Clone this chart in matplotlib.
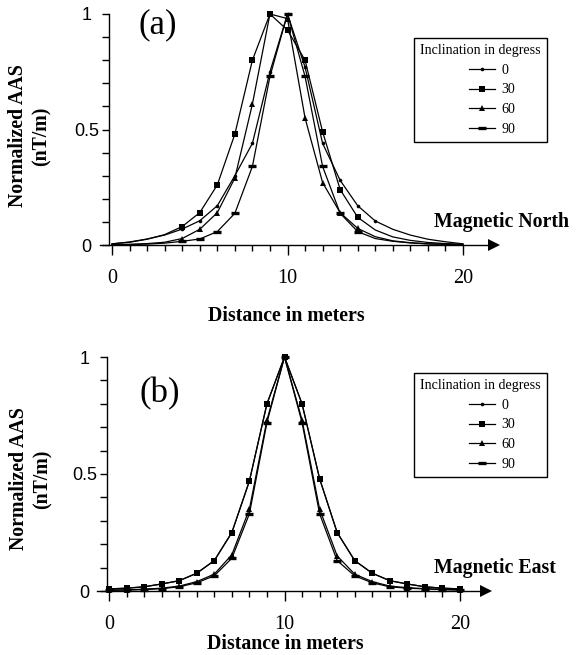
import numpy as np
import matplotlib
matplotlib.use("Agg")
import matplotlib.pyplot as plt
from matplotlib.offsetbox import HPacker, DrawingArea

SERIF = "Liberation Serif"
SANS = "Liberation Sans"

# distance along the profile (m)
dist = np.arange(0, 21)
inclinations = ["0", "30", "60", "90"]

# panel (a): profile towards magnetic north
north_0 = [0.005, 0.013, 0.026, 0.043, 0.069, 0.105, 0.17, 0.30, 0.44, 0.75, 1.0,
           0.77, 0.44, 0.28, 0.17, 0.104, 0.068, 0.043, 0.025, 0.014, 0.005]
north_30 = [0.005, 0.012, 0.025, 0.045, 0.08, 0.14, 0.26, 0.48, 0.80, 1.0, 0.93,
            0.80, 0.49, 0.24, 0.12, 0.065, 0.035, 0.02, 0.011, 0.006, 0.003]
north_60 = [0.002, 0.003, 0.006, 0.012, 0.028, 0.068, 0.14, 0.29, 0.61, 1.0, 0.98,
            0.55, 0.27, 0.14, 0.072, 0.036, 0.018, 0.01, 0.005, 0.003, 0.002]
north_90 = [0.001, 0.002, 0.004, 0.008, 0.016, 0.026, 0.058, 0.137, 0.34, 0.73, 1.0,
            0.73, 0.34, 0.137, 0.058, 0.028, 0.016, 0.009, 0.005, 0.003, 0.001]

# panel (b): profile towards magnetic east
east_0 = [0.009, 0.012, 0.018, 0.03, 0.044, 0.076, 0.13, 0.25, 0.47, 0.80, 1.0,
          0.80, 0.48, 0.25, 0.13, 0.076, 0.044, 0.03, 0.018, 0.012, 0.009]
east_30 = [0.009, 0.012, 0.018, 0.03, 0.044, 0.076, 0.13, 0.25, 0.47, 0.80, 1.0,
           0.80, 0.48, 0.25, 0.13, 0.076, 0.044, 0.03, 0.018, 0.012, 0.009]
east_60 = [0.004, 0.005, 0.008, 0.012, 0.021, 0.04, 0.072, 0.155, 0.35, 0.73, 1.0,
           0.73, 0.35, 0.15, 0.072, 0.04, 0.021, 0.014, 0.01, 0.007, 0.005]
east_90 = [0.003, 0.004, 0.006, 0.01, 0.018, 0.035, 0.065, 0.14, 0.33, 0.72, 1.0,
           0.72, 0.33, 0.13, 0.065, 0.035, 0.018, 0.012, 0.009, 0.006, 0.004]

y_ticks = [0, 0.5, 1]
y_ticklabels = ["0", "0.5", "1"]
x_ticks = [0, 10, 20]

# marker style per inclination
STYLES = {
    "0":  dict(marker="o", ms=2.6, mew=0),
    "30": dict(marker="s", ms=4.6, mew=0),
    "60": dict(marker="^", ms=5.0, mew=0),
    "90": dict(marker="_", ms=6.0, mew=2.4),
}

W, H = 582, 655
fig = plt.figure(figsize=(W / 100, H / 100), dpi=100)


def make_panel(px_x0, px_y0, px_y1, px_yaxis, px_xstart, px_xend, ppx):
    # pixel layout -> axes rectangle
    ax = fig.add_axes([px_xstart / W, 1 - px_y0 / H,
                       (px_xend - px_xstart) / W, (px_y0 - px_y1) / H])
    ax.set_xlim((px_xstart - px_x0) / ppx, (px_xend - px_x0) / ppx)
    ax.set_ylim(0, 1)
    ax.spines['top'].set_visible(False)
    ax.spines['right'].set_visible(False)
    ax.spines['left'].set_position(('data', (px_yaxis - px_x0) / ppx))
    for s in ('left', 'bottom'):
        ax.spines[s].set_linewidth(1.0)
    ax.patch.set_visible(False)

    ax.set_xticks(x_ticks)
    ax.set_xticks(dist, minor=True)
    ax.set_xticklabels([str(t) for t in x_ticks], family=SERIF, fontsize=14.5)
    ax.tick_params(axis='x', which='major', direction='out', length=7, width=1, pad=10)
    ax.tick_params(axis='x', which='minor', direction='out', length=4.3, width=1)

    ax.set_yticks(y_ticks)
    ax.set_yticks(np.arange(0, 1.01, 0.1), minor=True)
    ax.set_yticklabels(y_ticklabels, family=SANS, fontsize=13, ha='center')
    ax.tick_params(axis='y', which='both', direction='out', length=5, width=1, pad=11)

    # arrow head at the end of the x axis
    ax.plot([1], [0], marker='>', color='k', ms=8, mew=0,
            transform=ax.get_yaxis_transform(), clip_on=False)
    return ax


def draw_series(ax, series, marks):
    lines = []
    for name, vals, mk in zip(inclinations, series, marks):
        ln, = ax.plot(dist, vals, color='k', lw=0.9, markevery=mk,
                      mfc='k', mec='k', label=name, clip_on=False, **STYLES[name])
        lines.append(ln)
    return lines


def add_legend(ax, lines, top_px):
    leg = ax.legend(handles=lines, title="Inclination in degress",
                    loc='upper left', bbox_to_anchor=(414 / W, 1 - top_px / H),
                    bbox_transform=fig.transFigure, frameon=True, fancybox=False,
                    framealpha=1, edgecolor='k', borderpad=0.45, borderaxespad=0,
                    handlelength=1.85, handletextpad=0.45, labelspacing=0.47,
                    numpoints=1, alignment='left', prop=dict(family=SERIF, size=10.1),
                    title_fontproperties=dict(family=SERIF, size=10.1))
    leg.get_frame().set_linewidth(1.0)
    # indent the entries under the title
    box = leg._legend_box
    hp = HPacker(children=[DrawingArea(35, 1), leg._legend_handle_box],
                 pad=0, sep=0, align='center')
    hp.set_figure(fig)
    box._children[1] = hp
    return leg


def bold_label(x_px, y_px, text, **kw):
    fig.text(x_px / W, 1 - y_px / H, text, family=SERIF, fontweight='bold',
             fontsize=14.3, **kw)


# ---------- panel (a) ----------
axa = make_panel(px_x0=112, px_y0=245, px_y1=14, px_yaxis=109,
                 px_xstart=100, px_xend=494, ppx=17.55)
marks_a = [slice(4, 16), slice(4, 15), slice(4, 15), slice(4, 15)]
la = draw_series(axa, [north_0, north_30, north_60, north_90], marks_a)
add_legend(axa, la, 38)
fig.text(158 / W, 1 - 25 / H, "(a)", family=SERIF, fontsize=25, ha='center', va='center')
bold_label(569, 222, "Magnetic North", ha='right', va='center')
bold_label(286, 316, "Distance in meters", ha='center', va='center')
bold_label(30, 136, "Normalized AAS\n(nT/m)", ha='center', va='center',
           rotation=90, multialignment='center', linespacing=1.25)

# ---------- panel (b) ----------
axb = make_panel(px_x0=109, px_y0=591, px_y1=357, px_yaxis=107,
                 px_xstart=97, px_xend=486, ppx=17.55)
marks_b = [None, None, None, None]
lb = draw_series(axb, [east_0, east_30, east_60, east_90], marks_b)
add_legend(axb, lb, 373)
fig.text(160 / W, 1 - 394 / H, "(b)", family=SERIF, fontsize=25, ha='center', va='center')
bold_label(556, 568, "Magnetic East", ha='right', va='center')
bold_label(285, 644, "Distance in meters", ha='center', va='center')
bold_label(31, 479, "Normalized AAS\n(nT/m)", ha='center', va='center',
           rotation=90, multialignment='center', linespacing=1.25)

fig.savefig("out.png", dpi=100)
